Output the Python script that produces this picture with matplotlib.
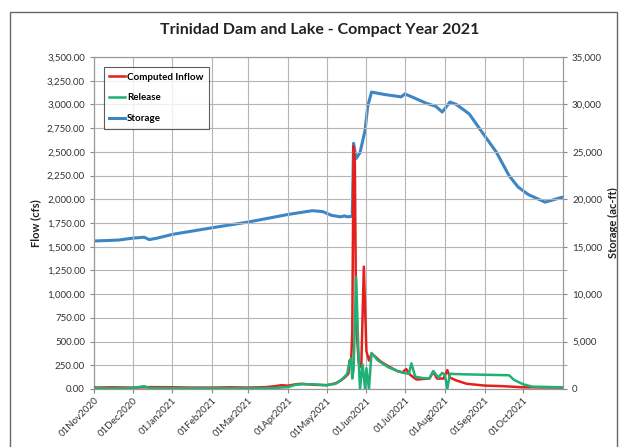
import matplotlib
matplotlib.use("Agg")
import matplotlib.pyplot as plt
import matplotlib.dates as mdates
import matplotlib.ticker as mticker
from matplotlib.patches import Rectangle
import pandas as pd

plt.rcParams['font.family'] = ['Lato', 'DejaVu Sans']

title = "Trinidad Dam and Lake - Compact Year 2021"

inflow_dates = ["2020-11-01", "2020-11-15", "2020-12-01", "2020-12-15", "2021-01-01", "2021-01-15",
                "2021-02-01", "2021-02-15", "2021-03-01", "2021-03-15", "2021-03-22", "2021-03-27",
                "2021-04-01", "2021-04-07", "2021-04-12", "2021-04-20", "2021-05-01", "2021-05-08",
                "2021-05-12", "2021-05-15", "2021-05-18", "2021-05-19", "2021-05-20", "2021-05-21",
                "2021-05-22", "2021-05-23", "2021-05-24", "2021-05-26", "2021-05-28", "2021-05-30",
                "2021-06-01", "2021-06-03", "2021-06-05", "2021-06-08", "2021-06-12", "2021-06-18",
                "2021-06-25", "2021-06-29", "2021-07-02", "2021-07-05", "2021-07-10", "2021-07-15",
                "2021-07-20", "2021-07-23", "2021-07-26", "2021-07-31", "2021-08-03", "2021-08-05",
                "2021-08-10", "2021-08-18", "2021-09-01", "2021-09-15", "2021-10-01", "2021-10-31"]
inflow_cfs = [15, 18, 15, 20, 18, 15,
              15, 18, 15, 20, 30, 40,
              35, 50, 55, 45, 40, 60,
              90, 120, 160, 300, 260, 600,
              2560, 2400, 700, 280, 230, 1290,
              400, 300, 370, 340, 290, 240,
              190, 175, 210, 150, 100, 105,
              110, 180, 110, 110, 200, 120,
              90, 55, 36, 30, 18, 15]

release_dates = ["2020-11-01", "2020-11-15", "2020-12-01", "2020-12-10", "2020-12-14", "2021-01-01",
                 "2021-02-01", "2021-03-01", "2021-03-20", "2021-04-01", "2021-04-07", "2021-04-12",
                 "2021-04-20", "2021-05-01", "2021-05-08", "2021-05-12", "2021-05-15", "2021-05-17",
                 "2021-05-19", "2021-05-20", "2021-05-21", "2021-05-22", "2021-05-24", "2021-05-26",
                 "2021-05-27", "2021-05-29", "2021-05-31", "2021-06-01", "2021-06-03", "2021-06-05",
                 "2021-06-10", "2021-06-18", "2021-06-25", "2021-06-30", "2021-07-04", "2021-07-06",
                 "2021-07-09", "2021-07-15", "2021-07-20", "2021-07-23", "2021-07-27", "2021-07-30",
                 "2021-08-01", "2021-08-03", "2021-08-05", "2021-08-15", "2021-09-01", "2021-09-20",
                 "2021-09-24", "2021-10-01", "2021-10-08", "2021-10-31"]
release_cfs = [10, 8, 10, 30, 10, 8,
               8, 8, 10, 20, 45, 50,
               50, 40, 55, 90, 130, 160,
               300, 320, 110, 200, 1180, 300,
               0, 260, 0, 220, 0, 380,
               300, 230, 190, 170, 160, 270,
               130, 115, 110, 190, 120, 170,
               150, 5, 160, 155, 150, 145,
               95, 50, 25, 18]

storage_dates = ["2020-11-01", "2020-11-20", "2020-12-01", "2020-12-10", "2020-12-14", "2020-12-20",
                 "2021-01-01", "2021-02-01", "2021-03-01", "2021-04-01", "2021-04-20", "2021-04-28",
                 "2021-05-05", "2021-05-12", "2021-05-15", "2021-05-17", "2021-05-21", "2021-05-22",
                 "2021-05-24", "2021-05-27", "2021-05-31", "2021-06-02", "2021-06-05", "2021-06-15",
                 "2021-06-28", "2021-07-01", "2021-07-08", "2021-07-18", "2021-07-25", "2021-07-30",
                 "2021-08-05", "2021-08-10", "2021-08-20", "2021-09-01", "2021-09-10", "2021-09-20",
                 "2021-09-27", "2021-10-05", "2021-10-18", "2021-10-31"]
storage_acft = [15600, 15700, 15900, 16000, 15750, 15900,
                16300, 17000, 17600, 18400, 18800, 18700,
                18300, 18150, 18250, 18150, 18200, 25900,
                24300, 24900, 27300, 29800, 31300, 31050,
                30800, 31100, 30700, 30100, 29800, 29200,
                30250, 30000, 29000, 26700, 25000, 22500,
                21300, 20500, 19700, 20200]

month_ticks = pd.date_range("2020-11-01", "2021-10-01", freq="MS")

fig = plt.figure(figsize=(6.26, 4.47), dpi=100)
fig.patches.append(Rectangle((10/626, -0.05), 607/626, 1.05 - 12/447, transform=fig.transFigure,
                             fill=False, edgecolor="#666666", lw=1.0))
ax = fig.add_axes([94/626, 1 - 389/447, 469/626, 332/447])
ax2 = ax.twinx()

red = "#e3201c"
green = "#1fb075"
blue = "#3d86c6"

ax.set_zorder(ax2.get_zorder() + 1)
ax.patch.set_visible(False)

l1, = ax.plot(pd.to_datetime(inflow_dates), inflow_cfs, color=red, lw=1.8, label="Computed Inflow", zorder=3)
l2, = ax.plot(pd.to_datetime(release_dates), release_cfs, color=green, lw=1.8, label="Release", zorder=4)
l3, = ax2.plot(pd.to_datetime(storage_dates), storage_acft, color=blue, lw=2.2, label="Storage")

ax.set_ylim(0, 3500)
ax2.set_ylim(0, 35000)
ax.set_xlim(pd.Timestamp("2020-11-01"), pd.Timestamp("2021-11-01"))

ax.yaxis.set_major_locator(mticker.MultipleLocator(250))
ax.yaxis.set_major_formatter(mticker.StrMethodFormatter("{x:,.2f}"))
ax2.yaxis.set_major_locator(mticker.MultipleLocator(5000))
ax2.yaxis.set_minor_locator(mticker.MultipleLocator(2500))
ax2.yaxis.set_major_formatter(mticker.StrMethodFormatter("{x:,.0f}"))

ax.set_xticks(month_ticks)
ax.set_xticklabels([d.strftime("%d%b%Y") for d in month_ticks], rotation=45, ha="right",
                   rotation_mode="anchor", fontsize=7, color="#333333")
ax.tick_params(axis="x", length=3, color="#888888", pad=2)
ax.tick_params(axis="y", labelsize=7, labelcolor="#333333", length=3, color="#888888")
ax2.tick_params(axis="y", which="both", labelsize=7, labelcolor="#333333", length=3, color="#888888")

ax.grid(True, color="#b5b5b5", lw=0.8)
ax2.set_axisbelow(True)
for a in (ax, ax2):
    for s in a.spines.values():
        s.set_color("#999999")
        s.set_linewidth(0.8)

ax.set_ylabel("Flow (cfs)", fontsize=8, fontweight="bold", color="#222222", labelpad=4)
ax2.set_ylabel("Storage (ac-ft)", fontsize=8, fontweight="bold", color="#222222", labelpad=4)
fig.text(320/626, 1 - 30/447, title, ha="center", va="center", fontsize=11.5, fontweight="bold", color="#222222")

leg = ax.legend(handles=[l1, l2, l3], loc="upper left", bbox_to_anchor=(0.01, 0.985),
                fontsize=7, frameon=True, fancybox=False, edgecolor="#333333",
                handlelength=1.6, handletextpad=0.2, labelspacing=1.2, borderpad=0.6)
leg.get_frame().set_linewidth(0.8)
for t in leg.get_texts():
    t.set_fontweight("bold")

fig.savefig("out.png", dpi=100)
